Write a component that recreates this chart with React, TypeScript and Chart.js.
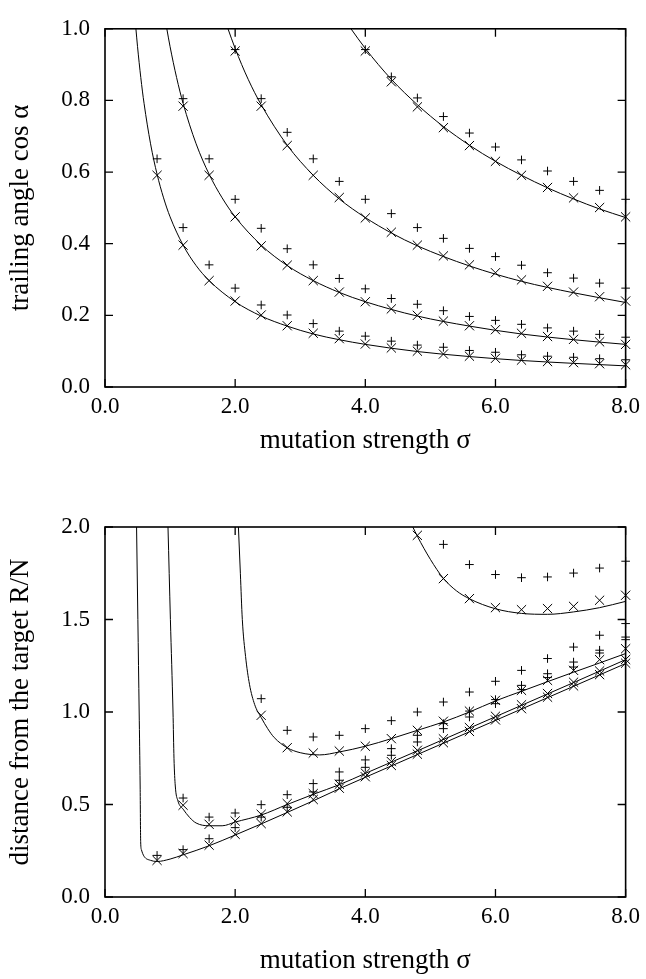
import React, { useEffect, useRef } from "react";
import { Chart, registerables } from "chart.js";

Chart.register(...registerables);

// sampled sigma grid for simulation markers
const sigmaGrid = [0.8, 1.2, 1.6, 2.0, 2.4, 2.8, 3.2, 3.6, 4.0, 4.4, 4.8, 5.2, 5.6, 6.0, 6.4, 6.8, 7.2, 7.6, 8.0];

// ---- top chart: trailing angle cos(alpha) ----
const cosCrossA = [0.591, 0.396, 0.297, 0.240, 0.201, 0.171, 0.150, 0.135, 0.120, 0.109, 0.100, 0.092, 0.086, 0.080, 0.075, 0.071, 0.068, 0.065, 0.062];
const cosPlusA = [0.637, 0.445, 0.341, 0.276, 0.229, 0.201, 0.177, 0.156, 0.142, 0.128, 0.117, 0.111, 0.102, 0.097, 0.090, 0.086, 0.083, 0.079, 0.076];
const cosCrossB = [null, 0.784, 0.591, 0.475, 0.394, 0.340, 0.297, 0.265, 0.238, 0.218, 0.200, 0.184, 0.171, 0.160, 0.150, 0.141, 0.133, 0.126, 0.119];
const cosPlusB = [null, 0.805, 0.637, 0.524, 0.443, 0.386, 0.341, 0.303, 0.274, 0.247, 0.231, 0.213, 0.197, 0.186, 0.175, 0.165, 0.156, 0.147, 0.139];
const cosCrossC = [null, null, null, 0.938, 0.784, 0.674, 0.591, 0.529, 0.472, 0.432, 0.396, 0.366, 0.341, 0.319, 0.299, 0.281, 0.265, 0.252, 0.240];
const cosPlusC = [null, null, null, 0.942, 0.805, 0.711, 0.637, 0.574, 0.524, 0.484, 0.445, 0.415, 0.387, 0.364, 0.340, 0.319, 0.304, 0.290, 0.276];
const cosCrossD = [null, null, null, null, null, null, null, null, 0.938, 0.852, 0.782, 0.724, 0.674, 0.630, 0.591, 0.557, 0.528, 0.501, 0.475];
const cosPlusD = [null, null, null, null, null, null, null, null, 0.942, 0.866, 0.807, 0.755, 0.709, 0.670, 0.634, 0.603, 0.574, 0.549, 0.524];

const cosLineAS = [0.475, 0.5, 0.55, 0.6, 0.7, 0.8, 0.9, 1.0, 1.2, 1.4, 1.6, 2.0, 2.4, 2.8, 3.2, 3.6, 4.0, 4.8, 5.6, 6.4, 7.2, 8.0];
const cosLineAV = [1.0, 0.95, 0.864, 0.792, 0.679, 0.594, 0.528, 0.475, 0.396, 0.339, 0.297, 0.238, 0.198, 0.170, 0.148, 0.132, 0.119, 0.099, 0.085, 0.074, 0.066, 0.059];
const cosLineBS = [0.95, 1.0, 1.1, 1.2, 1.4, 1.6, 1.8, 2.0, 2.4, 2.8, 3.2, 3.6, 4.0, 4.8, 5.6, 6.4, 7.2, 8.0];
const cosLineBV = [1.0, 0.95, 0.864, 0.792, 0.679, 0.594, 0.528, 0.475, 0.396, 0.339, 0.297, 0.264, 0.238, 0.198, 0.170, 0.148, 0.132, 0.119];
const cosLineCS = [1.89, 2.0, 2.2, 2.4, 2.8, 3.2, 3.6, 4.0, 4.4, 4.8, 5.6, 6.4, 7.2, 8.0];
const cosLineCV = [1.0, 0.945, 0.859, 0.788, 0.675, 0.591, 0.525, 0.473, 0.430, 0.394, 0.338, 0.295, 0.263, 0.236];
const cosLineDS = [3.78, 4.0, 4.4, 4.8, 5.2, 5.6, 6.0, 6.4, 6.8, 7.2, 7.6, 8.0];
const cosLineDV = [1.0, 0.945, 0.859, 0.788, 0.727, 0.675, 0.630, 0.591, 0.556, 0.525, 0.497, 0.473];

// ---- bottom chart: distance from the target R/N ----
const distCrossA = [0.198, 0.235, 0.280, 0.339, 0.397, 0.460, 0.527, 0.588, 0.650, 0.711, 0.772, 0.834, 0.895, 0.957, 1.018, 1.080, 1.141, 1.202, 1.264];
const distPlusA = [0.225, 0.256, 0.315, 0.375, 0.432, 0.485, 0.568, 0.631, 0.701, 0.766, 0.838, 0.910, 0.973, 1.045, 1.121, 1.186, 1.243, 1.319, 1.391];
const distCrossB = [null, 0.496, 0.393, 0.411, 0.447, 0.505, 0.559, 0.609, 0.670, 0.732, 0.793, 0.855, 0.916, 0.977, 1.039, 1.100, 1.161, 1.222, 1.284];
const distPlusB = [null, 0.535, 0.432, 0.454, 0.499, 0.553, 0.613, 0.676, 0.741, 0.802, 0.874, 0.937, 1.005, 1.067, 1.144, 1.207, 1.270, 1.334, 1.405];
const distCrossC = [null, null, null, null, 0.982, 0.807, 0.778, 0.789, 0.815, 0.856, 0.901, 0.950, 1.005, 1.063, 1.117, 1.171, 1.225, 1.283, 1.342];
const distPlusC = [null, null, null, null, 1.072, 0.901, 0.865, 0.874, 0.910, 0.953, 1.000, 1.054, 1.108, 1.166, 1.225, 1.289, 1.351, 1.415, 1.478];
const distCrossD = [null, null, null, null, null, null, null, null, null, null, 1.955, 1.721, 1.613, 1.564, 1.553, 1.559, 1.571, 1.604, 1.631];
const distPlusD = [null, null, null, null, null, null, null, null, null, null, null, 1.906, 1.797, 1.743, 1.726, 1.730, 1.751, 1.778, 1.815];

const distLineAS = [0.485, 0.505, 0.525, 0.54, 0.548, 0.56, 0.6, 0.7, 0.8, 1.0, 1.2, 1.6, 2.0, 2.4, 2.8, 3.2, 3.6, 4.0, 4.8, 5.6, 6.4, 7.2, 8.0];
const distLineAV = [2.0, 1.5, 1.0, 0.6, 0.3, 0.255, 0.22, 0.198, 0.192, 0.205, 0.228, 0.277, 0.335, 0.395, 0.457, 0.52, 0.585, 0.647, 0.77, 0.893, 1.016, 1.139, 1.262];
const distLineBS = [0.968, 1.005, 1.045, 1.06, 1.08, 1.12, 1.2, 1.3, 1.4, 1.6, 1.8, 2.0, 2.4, 2.8, 3.2, 3.6, 4.0, 4.8, 5.6, 6.4, 7.2, 8.0];
const distLineBV = [2.0, 1.5, 1.0, 0.75, 0.6, 0.52, 0.475, 0.43, 0.40, 0.385, 0.385, 0.405, 0.443, 0.5, 0.555, 0.607, 0.668, 0.79, 0.913, 1.036, 1.159, 1.283];
const distLineCS = [2.05, 2.08, 2.11, 2.16, 2.22, 2.3, 2.4, 2.5, 2.6, 2.8, 3.0, 3.3, 3.6, 4.0, 4.4, 4.8, 5.2, 5.6, 6.0, 6.4, 6.8, 7.2, 7.6, 8.0];
const distLineCV = [2.0, 1.75, 1.5, 1.3, 1.15, 1.04, 0.97, 0.91, 0.862, 0.807, 0.78, 0.768, 0.784, 0.815, 0.856, 0.901, 0.946, 1.0, 1.06, 1.112, 1.164, 1.215, 1.265, 1.316];
const distLineDS = [4.73, 4.8, 4.9, 5.0, 5.1, 5.2, 5.4, 5.6, 6.0, 6.4, 6.8, 7.2, 7.6, 8.0];
const distLineDV = [2.0, 1.95, 1.885, 1.825, 1.77, 1.722, 1.655, 1.612, 1.558, 1.533, 1.528, 1.541, 1.564, 1.598];

const xTitle = "mutation strength σ";
const topYTitle = "trailing angle cos α";
const bottomYTitle = "distance from the target R/N";

const FONT = "'Liberation Serif', 'DejaVu Serif', serif";

const zip = (xs: number[], ys: (number | null)[]) =>
  xs.map((x, i) => ({ x, y: ys[i] })).filter((p) => p.y !== null);

const lineDs = (xs: number[], ys: number[]) => ({
  data: zip(xs, ys),
  showLine: true,
  borderColor: "#000",
  borderWidth: 1,
  pointRadius: 0,
  cubicInterpolationMode: "monotone" as const,
  fill: false,
});

const markDs = (ys: (number | null)[], style: string, r: number) => ({
  data: zip(sigmaGrid, ys),
  showLine: false,
  pointStyle: style,
  pointRadius: r,
  pointBorderColor: "#000",
  pointBackgroundColor: "#000",
  pointBorderWidth: 1,
  borderColor: "#000",
  clip: false,
});

const framePlugin = {
  id: "frame",
  afterDatasetsDraw(chart: any) {
    const { ctx, chartArea, scales } = chart;
    const { left, right, top, bottom } = chartArea;
    ctx.save();
    ctx.strokeStyle = "#000";
    ctx.lineWidth = 1.6;
    ctx.strokeRect(left, top, right - left, bottom - top);
    ctx.lineWidth = 1.3;
    const L = 8;
    ctx.beginPath();
    scales.x.ticks.forEach((t: any) => {
      const px = scales.x.getPixelForValue(t.value);
      ctx.moveTo(px, bottom);
      ctx.lineTo(px, bottom - L);
      ctx.moveTo(px, top);
      ctx.lineTo(px, top + L);
    });
    scales.y.ticks.forEach((t: any) => {
      const py = scales.y.getPixelForValue(t.value);
      ctx.moveTo(left, py);
      ctx.lineTo(left + L, py);
      ctx.moveTo(right, py);
      ctx.lineTo(right - L, py);
    });
    ctx.stroke();
    ctx.restore();
  },
};

function makeOptions(yMax: number, yStep: number, yTitle: string, padTop: number, xHeight: number, xTitleBottom: number) {
  return {
    responsive: false,
    animation: false as const,
    devicePixelRatio: 1,
    events: [],
    layout: { padding: { top: padTop, right: 18, left: 0, bottom: 0 } },
    plugins: { legend: { display: false }, tooltip: { enabled: false }, title: { display: false } },
    scales: {
      x: {
        type: "linear" as const,
        min: 0,
        max: 8,
        ticks: {
          stepSize: 2,
          autoSkip: false,
          maxRotation: 0,
          padding: 6,
          color: "#000",
          font: { family: FONT, size: 23 },
          callback: (v: any) => Number(v).toFixed(1),
        },
        grid: { display: false, drawTicks: false },
        border: { display: false },
        title: {
          display: true,
          text: xTitle,
          color: "#000",
          font: { family: FONT, size: 27 },
          padding: { top: 0, bottom: xTitleBottom },
        },
        afterFit: (s: any) => {
          s.height = xHeight;
        },
      },
      y: {
        type: "linear" as const,
        min: 0,
        max: yMax,
        ticks: {
          stepSize: yStep,
          autoSkip: false,
          padding: 15,
          color: "#000",
          font: { family: FONT, size: 23 },
          callback: (v: any) => Number(v).toFixed(1),
        },
        grid: { display: false, drawTicks: false },
        border: { display: false },
        title: {
          display: true,
          text: yTitle,
          color: "#000",
          font: { family: FONT, size: 27 },
          padding: { top: 5, bottom: 0 },
        },
        afterFit: (s: any) => {
          s.width = 105;
        },
      },
    },
  };
}

export default function App() {
  const topRef = useRef<HTMLCanvasElement>(null);
  const botRef = useRef<HTMLCanvasElement>(null);

  useEffect(() => {
    const top = new Chart(topRef.current as HTMLCanvasElement, {
      type: "scatter",
      data: {
        datasets: [
          lineDs(cosLineAS, cosLineAV),
          lineDs(cosLineBS, cosLineBV),
          lineDs(cosLineCS, cosLineCV),
          lineDs(cosLineDS, cosLineDV),
          markDs(cosCrossA, "crossRot", 6.5),
          markDs(cosPlusA, "cross", 4.3),
          markDs(cosCrossB, "crossRot", 6.5),
          markDs(cosPlusB, "cross", 4.3),
          markDs(cosCrossC, "crossRot", 6.5),
          markDs(cosPlusC, "cross", 4.3),
          markDs(cosCrossD, "crossRot", 6.5),
          markDs(cosPlusD, "cross", 4.3),
        ] as any,
      },
      options: makeOptions(1.0, 0.2, topYTitle, 16, 83, 13) as any,
      plugins: [framePlugin],
    });
    const bot = new Chart(botRef.current as HTMLCanvasElement, {
      type: "scatter",
      data: {
        datasets: [
          lineDs(distLineAS, distLineAV),
          lineDs(distLineBS, distLineBV),
          lineDs(distLineCS, distLineCV),
          lineDs(distLineDS, distLineDV),
          markDs(distCrossA, "crossRot", 6.5),
          markDs(distPlusA, "cross", 4.3),
          markDs(distCrossB, "crossRot", 6.5),
          markDs(distPlusB, "cross", 4.3),
          markDs(distCrossC, "crossRot", 6.5),
          markDs(distPlusC, "cross", 4.3),
          markDs(distCrossD, "crossRot", 6.5),
          markDs(distPlusD, "cross", 4.3),
        ] as any,
      },
      options: makeOptions(2.0, 0.5, bottomYTitle, 57, 82, 2) as any,
      plugins: [framePlugin],
    });
    return () => {
      top.destroy();
      bot.destroy();
    };
  }, []);

  return (
    <div style={{ position: "absolute", left: 0, top: 0, width: 646, height: 979, background: "#fff" }}>
      <canvas ref={topRef} width={646} height={470} style={{ position: "absolute", left: 0, top: 0, display: "block" }} />
      <canvas ref={botRef} width={646} height={509} style={{ position: "absolute", left: 0, top: 470, display: "block" }} />
    </div>
  );
}
